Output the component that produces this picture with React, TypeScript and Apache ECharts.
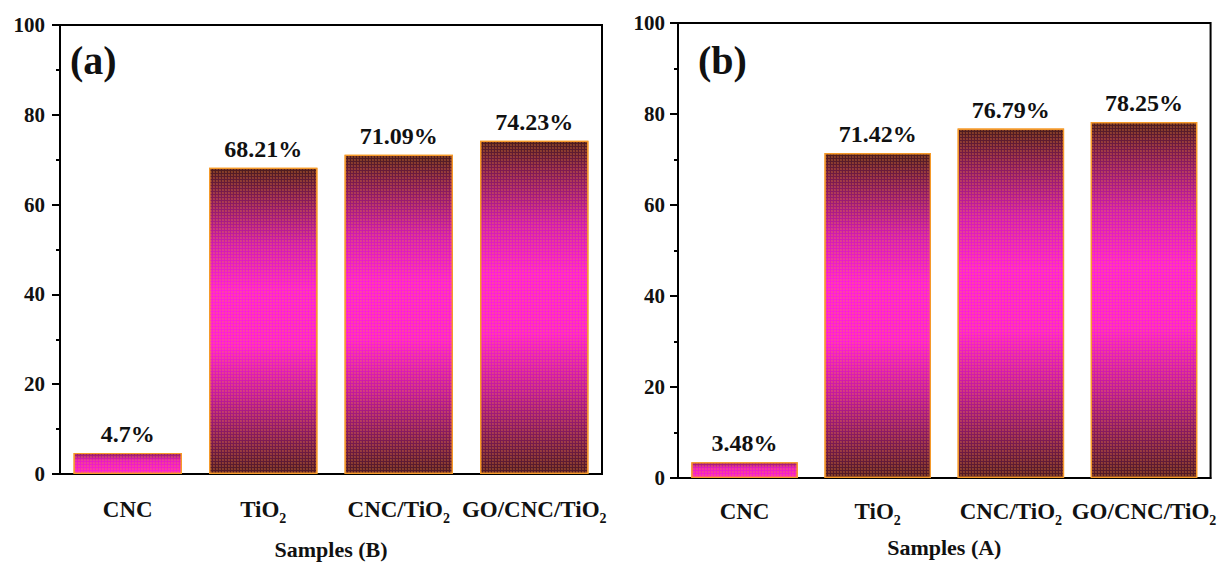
import React, { useEffect, useRef } from "react";
import * as echarts from "echarts";

const categories = ["CNC", "TiO2", "CNC/TiO2", "GO/CNC/TiO2"];
const valuesB = [4.7, 68.21, 71.09, 74.23];
const valuesA = [3.48, 71.42, 76.79, 78.25];
const yTicks = { min: 0, max: 100, interval: 20 };
const panelLabels = ["(a)", "(b)"];
const axisNames = ["Samples (B)", "Samples (A)"];

const FONT = "'Liberation Serif', 'Times New Roman', serif";

const tallGrad = new echarts.graphic.LinearGradient(0, 0, 0, 1, [
  { offset: 0, color: "#4a1c1c" },
  { offset: 0.08, color: "#7a1a4c" },
  { offset: 0.25, color: "#d01cb0" },
  { offset: 0.4, color: "#ff20d8" },
  { offset: 0.58, color: "#ff20d4" },
  { offset: 0.75, color: "#c01a9a" },
  { offset: 0.9, color: "#7a1a50" },
  { offset: 1, color: "#4e1a22" },
]);
const shortGrad = new echarts.graphic.LinearGradient(0, 0, 0, 1, [
  { offset: 0, color: "#8a1a60" },
  { offset: 0.35, color: "#e81cc0" },
  { offset: 1, color: "#ff20d0" },
]);

const decal = {
  symbol: "circle",
  symbolSize: 0.75,
  color: "rgba(255,140,50,0.55)",
  dashArrayX: [2, 1],
  dashArrayY: [2, 1],
};

function catLabel(v: string) {
  return v.replace(/O2$/, "O{sub|2}");
}

export default function App() {
  const ref = useRef<HTMLDivElement>(null);
  useEffect(() => {
    if (!ref.current) return;
    const chart = echarts.init(ref.current, undefined, { renderer: "svg" });
    const grids = [
      { left: 60, right: 617, top: 25, bottom: 89 },
      { left: 678, right: 6, top: 23, bottom: 87 },
    ];
    const xAxes: any[] = [];
    const yAxes: any[] = [];
    const series: any[] = [];
    const datasets = [valuesB, valuesA];
    const margins = [24, 22];
    const nameGaps = [64, 58];
    const yMargins = [15, 13];
    grids.forEach((_, gi) => {
      xAxes.push({
        type: "category",
        gridIndex: gi,
        data: categories,
        position: "bottom",
        name: axisNames[gi],
        nameLocation: "middle",
        nameGap: nameGaps[gi],
        nameTextStyle: { fontFamily: FONT, fontWeight: "bold", fontSize: 22, color: "#111" },
        axisLine: { lineStyle: { color: "#000", width: 2 } },
        axisTick: { alignWithLabel: true, length: 10, lineStyle: { color: "#000", width: 2 } },
        axisLabel: {
          interval: 0,
          margin: margins[gi],
          fontFamily: FONT,
          fontWeight: "bold",
          fontSize: 23,
          color: "#111",
          formatter: catLabel,
          rich: {
            sub: {
              fontFamily: FONT,
              fontWeight: "bold",
              fontSize: 14,
              lineHeight: 14,
              padding: [18, 0, 0, 0],
              color: "#111",
            },
          },
        },
        splitLine: { show: false },
      });
      xAxes.push({
        type: "category",
        gridIndex: gi,
        data: categories,
        position: "bottom",
        axisLine: { show: false },
        axisTick: { length: 4, lineStyle: { color: "#000", width: 2 } },
        axisLabel: { show: false },
        splitLine: { show: false },
      });
      yAxes.push({
        type: "value",
        gridIndex: gi,
        min: yTicks.min,
        max: yTicks.max,
        interval: yTicks.interval,
        axisLine: { show: true, lineStyle: { color: "#000", width: 2 } },
        axisTick: { show: true, length: 8, lineStyle: { color: "#000", width: 2 } },
        minorTick: { show: true, splitNumber: 2, length: 4, lineStyle: { color: "#000", width: 2 } },
        splitLine: { show: false },
        axisLabel: {
          margin: yMargins[gi],
          fontFamily: FONT,
          fontWeight: "bold",
          fontSize: 21,
          color: "#111",
        },
      });
      series.push({
        type: "bar",
        xAxisIndex: gi * 2,
        yAxisIndex: gi,
        barWidth: "80%",
        data: datasets[gi].map((v, i) => ({
          value: v,
          itemStyle: { color: i === 0 ? shortGrad : tallGrad },
        })),
        itemStyle: { borderColor: "#f59a2a", borderWidth: 1.2, decal },
        label: {
          show: true,
          position: "top",
          distance: 7,
          fontFamily: FONT,
          fontWeight: "bold",
          fontSize: 24,
          color: "#111",
          formatter: (p: any) => `${p.value}%`,
        },
      });
    });
    chart.setOption({
      animation: false,
      backgroundColor: "#fff",
      grid: grids.map((g) => ({ ...g, show: true, borderColor: "#000", borderWidth: 2, backgroundColor: "transparent" })),
      xAxis: xAxes,
      yAxis: yAxes,
      series,
      graphic: [
        {
          type: "text",
          left: 70,
          top: 40,
          style: { text: panelLabels[0], font: `bold 40px ${FONT}`, fill: "#111" },
        },
        {
          type: "text",
          left: 698,
          top: 40,
          style: { text: panelLabels[1], font: `bold 40px ${FONT}`, fill: "#111" },
        },
      ],
    });
    return () => chart.dispose();
  }, []);
  return (
    <div
      ref={ref}
      style={{ position: "fixed", left: 0, top: 0, width: 1219, height: 565 }}
    />
  );
}
